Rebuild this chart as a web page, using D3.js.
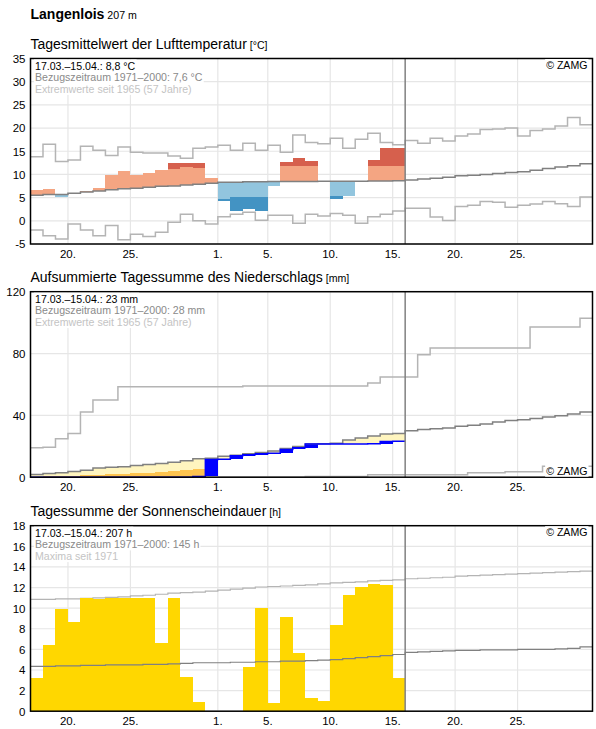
<!DOCTYPE html>
<html><head><meta charset="utf-8">
<script src="https://cdn.jsdelivr.net/npm/d3@7"></script>
<style>
body{margin:0;background:#fff}
svg{display:block;font-family:"Liberation Sans",Arial,Helvetica,sans-serif}
</style>
</head><body>
<svg id="chart" width="596" height="729"></svg>
<script>
// ---------- data ----------
const station = "Langenlois";
const stationAlt = "207 m";
const dayCount = 45;           // 17.03. – 30.04.
const obsCount = 30;           // 17.03. – 15.04.
const dayTicks = [3, 8, 15, 19, 24, 29, 34, 39];
const dayTickLabels = ["20.", "25.", "1.", "5.", "10.", "15.", "20.", "25."];

// Temperature [°C]
const tempObserved = [6.65, 6.9, 5.15, 6.0, 6.45, 7.0, 9.9, 10.75, 9.9, 10.3,
  10.95, 12.5, 12.5, 12.5, 9.25, 4.3, 2.15, 2.5, 2.15, 7.6,
  12.7, 13.6, 12.9, 8.55, 4.6, 5.45, 8.55, 13.1, 15.8, 15.8];
const tempNormal = [5.5, 5.7, 5.7, 5.95, 6.2, 6.45, 6.7, 6.9, 7.0, 7.25,
  7.45, 7.5, 7.7, 7.9, 8.1, 8.3, 8.3, 8.45, 8.45, 8.5,
  8.5, 8.5, 8.5, 8.55, 8.55, 8.55, 8.55, 8.6, 8.6, 8.65,
  8.8, 9.0, 9.2, 9.4, 9.7, 9.85, 10.0, 10.2, 10.4, 10.6,
  10.9, 11.3, 11.6, 11.9, 12.3];
const tempSigma = [3.8, 3.8, 3.8, 3.8, 3.9, 3.9, 3.9, 4.0, 3.9, 3.8,
  3.8, 3.7, 3.8, 3.5, 3.5, 3.6, 3.1, 3.35, 3.25, 3.3,
  3.3, 3.3, 3.3, 3.2, 3.1, 3.1, 3.2, 3.2, 3.2, 3.2];
const tempMax = [13.8, 16.5, 12.8, 13.1, 16.1, 15.2, 14.1, 15.9, 14.8, 14.6,
  14.6, 14.0, 13.5, 15.65, 15.9, 16.3, 15.2, 16.7, 15.2, 16.3,
  14.8, 18.5, 16.9, 16.6, 17.8, 15.65, 17.6, 18.9, 16.9, 16.4,
  17.3, 16.7, 17.8, 17.2, 18.3, 18.7, 19.7, 19.8, 20.0, 18.3,
  19.45, 19.8, 20.45, 22.3, 20.7];
const tempMin = [-2.0, -3.2, -3.9, -0.7, -2.0, -3.2, -1.0, -4.1, -2.9, -3.4,
  -2.45, -0.3, 1.4, 0.0, -0.7, 0.9, 1.4, 1.85, 0.1, 1.2,
  1.2, -0.5, 1.4, 1.05, 1.6, 1.2, -0.5, 0.9, 1.4, 2.1,
  2.7, 2.7, 0.8, 0.05, 3.1, 3.35, 4.15, 4.0, 2.9, 3.35,
  3.6, 4.15, 3.7, 3.1, 5.15];
const tempTicks = [-5, 0, 5, 10, 15, 20, 25, 30, 35];
const tempLegend = ["17.03.–15.04.: 8,8 °C", "Bezugszeitraum 1971–2000: 7,6 °C", "Extremwerte seit 1965 (57 Jahre)"];

// Precipitation, accumulated [mm]
const precipObserved = [0, 0, 0, 0, 0, 0, 0, 0, 0, 0,
  0, 0, 0, 0.5, 11.4, 11.6, 13.9, 14.6, 15.1, 15.5,
  18.0, 19.0, 21.5, 21.5, 21.5, 21.5, 21.5, 21.7, 23.1, 23.2];
const precipNormal = [1.75, 2.4, 2.8, 3.7, 4.5, 6.0, 6.5, 6.7, 7.5, 8.2,
  8.8, 9.7, 10.6, 11.9, 12.2, 13.6, 14.2, 15.1, 15.9, 17.0,
  18.6, 19.8, 21.5, 21.7, 21.9, 24.1, 25.4, 26.7, 28.0, 28.2,
  30.1, 30.8, 31.4, 31.9, 32.9, 33.6, 34.4, 35.7, 36.6, 37.2,
  37.9, 39.0, 39.8, 40.9, 42.2];
const precipDryLimit = [0.4, 0.6, 0.8, 1.0, 1.2, 1.6, 1.8, 2.0, 2.4, 2.8,
  3.2, 3.8, 4.5, 5.4, 5.4, 6.2, 6.5, 7.0, 7.4, 8.0,
  8.8, 9.5, 10.3, 10.5, 10.7, 11.8, 12.5, 13.2, 14.0, 14.1];
const precipMax = [19.0, 19.4, 24.8, 28.2, 42.2, 49.9, 49.9, 58.5, 58.5, 58.5,
  58.5, 58.5, 58.5, 58.5, 58.5, 58.5, 58.5, 59.0, 59.0, 59.0,
  59.0, 59.0, 59.0, 59.0, 59.0, 59.0, 59.0, 60.9, 64.8, 64.8,
  64.8, 79.2, 83.5, 83.5, 83.5, 83.5, 83.5, 83.5, 83.5, 83.5,
  97.2, 97.2, 97.2, 97.2, 102.8];
const precipMin = [0, 0, 0, 0, 0, 0, 0, 0, 0, 0,
  0, 0, 0, 0, 0, 0, 0, 0, 0, 0,
  0, 0, 0.5, 0.5, 0.5, 0.5, 0.5, 1.6, 1.6, 1.6,
  1.6, 1.6, 1.6, 1.6, 1.6, 2.8, 2.8, 2.8, 3.5, 3.5,
  3.5, 7.1, 7.1, 7.1, 7.1];
const precipTicks = [0, 40, 80, 120];
const precipLegend = ["17.03.–15.04.: 23 mm", "Bezugszeitraum 1971–2000: 28 mm", "Extremwerte seit 1965 (57 Jahre)"];

// Sunshine [h]
const sunObserved = [3.2, 6.4, 9.9, 8.7, 11.0, 10.9, 11.0, 11.0, 11.0, 11.0,
  6.6, 11.0, 3.3, 0.9, 0, 0, 0, 4.3, 10.0, 0.8,
  9.1, 5.6, 1.3, 1.0, 8.4, 11.3, 12.1, 12.3, 12.2, 3.2];
const sunNormal = [4.35, 4.35, 4.4, 4.4, 4.45, 4.45, 4.5, 4.5, 4.5, 4.55,
  4.55, 4.6, 4.65, 4.7, 4.7, 4.7, 4.75, 4.75, 4.8, 4.8,
  4.85, 4.85, 4.9, 4.95, 5.0, 5.1, 5.2, 5.3, 5.4, 5.5,
  5.7, 5.75, 5.8, 5.85, 5.9, 5.9, 5.95, 5.95, 5.95, 6.0,
  6.0, 6.0, 6.05, 6.1, 6.25];
const sunMax = [10.85, 10.85, 10.9, 10.9, 10.95, 11.0, 11.05, 11.1, 11.2, 11.25,
  11.35, 11.45, 11.5, 11.55, 11.65, 11.75, 11.85, 11.95, 12.05, 12.1,
  12.15, 12.2, 12.25, 12.35, 12.45, 12.5, 12.55, 12.65, 12.7, 12.75,
  12.85, 12.9, 12.95, 13.0, 13.1, 13.15, 13.2, 13.25, 13.3, 13.35,
  13.4, 13.45, 13.5, 13.55, 13.6];
const sunTicks = [0, 2, 4, 6, 8, 10, 12, 14, 16, 18];
const sunLegend = ["17.03.–15.04.: 207 h", "Bezugszeitraum 1971–2000: 145 h", "Maxima seit 1971"];

// ---------- drawing ----------
const svg = d3.select("#chart");
const X0 = 30.5, X1 = 592.5;
const x = d3.scaleLinear().domain([0, dayCount]).range([X0, X1]);
const smallFont = 10.6;

svg.append("text").attr("x", 30.5).attr("y", 19)
  .attr("font-size", 14).attr("font-weight", "bold").attr("fill", "#000")
  .text(station)
  .append("tspan").attr("font-weight", "normal").attr("font-size", smallFont).text(" " + stationAlt);

function stepPath(values, y) {
  const pts = values.map((v, i) => [i, v]);
  pts.push([values.length, values[values.length - 1]]);
  return d3.line().x(d => x(d[0])).y(d => y(d[1])).curve(d3.curveStepAfter)(pts);
}

function textWithBg(g, tx, ty, str, color, anchor) {
  const t = g.append("text").attr("x", tx).attr("y", ty)
    .attr("font-size", smallFont).attr("fill", color)
    .attr("text-anchor", anchor || "start").text(str);
  const bb = t.node().getBBox();
  g.insert("rect", () => t.node())
    .attr("x", bb.x - 1).attr("y", bb.y).attr("width", bb.width + 2).attr("height", bb.height)
    .attr("fill", "#fff");
}

function makeChart(cfg) {
  const top = cfg.top, bottom = cfg.top + 185.5;
  const y = d3.scaleLinear().domain(cfg.domain).range([bottom, top]);
  const g = svg.append("g");

  // title
  g.append("text").attr("x", 30.5).attr("y", top - 9.5)
    .attr("font-size", 14).attr("fill", "#000").text(cfg.title)
    .append("tspan").attr("font-size", smallFont).text(" " + cfg.unit);

  // grid
  const grid = g.append("g").attr("stroke", "#e6e6e6").attr("stroke-width", 1.2);
  grid.selectAll("line.h").data(cfg.ticks).join("line")
    .attr("x1", X0).attr("x2", X1).attr("y1", d => y(d)).attr("y2", d => y(d));
  grid.selectAll("line.v").data(dayTicks).join("line").attr("class", "v")
    .attr("x1", d => x(d)).attr("x2", d => x(d)).attr("y1", top).attr("y2", bottom);

  // y axis labels
  g.append("g").selectAll("text").data(cfg.ticks).join("text")
    .attr("x", 25.5).attr("y", d => y(d)).attr("dy", "0.38em")
    .attr("text-anchor", "end").attr("font-size", 11.5).attr("fill", "#000")
    .text(d => d);

  // x axis labels
  g.append("g").selectAll("text").data(dayTicks).join("text")
    .attr("x", d => x(d)).attr("y", bottom + 13.5)
    .attr("text-anchor", "middle").attr("font-size", 11.5).attr("fill", "#000")
    .text((d, i) => dayTickLabels[i]);

  // extremes
  cfg.extremes.forEach(arr => {
    g.append("path").attr("d", stepPath(arr, y)).attr("fill", "none")
      .attr("stroke", "#b4b4b4").attr("stroke-width", cfg.lineW);
  });

  cfg.marks(g, y);

  // normal
  g.append("path").attr("d", stepPath(cfg.normal, y)).attr("fill", "none")
    .attr("stroke", "#808080").attr("stroke-width", cfg.lineW);

  if (cfg.after) cfg.after(g, y);

  // today line
  g.append("line").attr("x1", x(obsCount)).attr("x2", x(obsCount))
    .attr("y1", top).attr("y2", bottom).attr("stroke", "#808080").attr("stroke-width", 1.5);

  // border
  g.append("rect").attr("x", X0).attr("y", top).attr("width", X1 - X0).attr("height", bottom - top)
    .attr("fill", "none").attr("stroke", "#000").attr("stroke-width", 1.5);

  // legend
  const colors = ["#000", "#8a8a8a", "#c4c4c4"];
  cfg.legend.forEach((s, i) => textWithBg(g, 35, top + 11 + i * 11.7, s, colors[i]));
  const zy = cfg.zamgBottom ? bottom - 2.5 : top + 10.5;
  textWithBg(g, X1 - 5, zy, "© ZAMG", "#000", "end");
}

// Temperature
makeChart({
  top: 58.5, domain: [-5, 35], ticks: tempTicks,
  title: "Tagesmittelwert der Lufttemperatur", unit: "[°C]",
  extremes: [tempMax, tempMin], normal: tempNormal, lineW: 1.5,
  legend: tempLegend,
  marks: (g, y) => {
    const rects = [];
    tempObserved.forEach((v, i) => {
      const n = tempNormal[i], s = tempSigma[i];
      if (v > n) {
        rects.push({i, a: n, b: Math.min(v, n + s), c: "#f4a582"});
        if (v > n + s) rects.push({i, a: n + s, b: v, c: "#d6604d"});
      } else if (v < n) {
        rects.push({i, a: Math.max(v, n - s), b: n, c: "#92c5de"});
        if (v < n - s) rects.push({i, a: v, b: n - s, c: "#4393c3"});
      }
    });
    g.append("g").selectAll("rect").data(rects).join("rect")
      .attr("x", d => x(d.i)).attr("width", d => x(d.i + 1) - x(d.i))
      .attr("y", d => y(d.b)).attr("height", d => y(d.a) - y(d.b))
      .attr("fill", d => d.c).attr("shape-rendering", "crispEdges");
  }
});

// Precipitation
makeChart({
  top: 291.7, domain: [0, 120], ticks: precipTicks,
  title: "Aufsummierte Tagessumme des Niederschlags", unit: "[mm]",
  extremes: [precipMax, precipMin], normal: precipNormal, lineW: 1.5,
  legend: precipLegend, zamgBottom: true,
  marks: (g, y) => {
    const rects = [];
    precipObserved.forEach((o, i) => {
      const n = precipNormal[i], L = precipDryLimit[i];
      if (o < n) {
        const lo = Math.max(o, L);
        if (lo < n) rects.push({i, a: lo, b: n, c: "#fff5bf"});
        if (o < L) rects.push({i, a: o, b: Math.min(L, n), c: "#fec44f"});
      }
      const prev = i > 0 ? precipObserved[i - 1] : 0;
      if (o > prev) rects.push({i, a: prev, b: o, c: "#0000ff"});
    });
    g.append("g").selectAll("rect").data(rects).join("rect")
      .attr("x", d => x(d.i)).attr("width", d => x(d.i + 1) - x(d.i))
      .attr("y", d => y(d.b)).attr("height", d => y(d.a) - y(d.b))
      .attr("fill", d => d.c).attr("shape-rendering", "crispEdges");
  },
  after: (g, y) => {
    g.append("path").attr("d", stepPath(precipObserved, y)).attr("fill", "none")
      .attr("stroke", "#0000ff").attr("stroke-width", 1.5);
  }
});

// Sunshine
makeChart({
  top: 525.7, domain: [0, 18], ticks: sunTicks,
  title: "Tagessumme der Sonnenscheindauer", unit: "[h]",
  extremes: [sunMax], normal: sunNormal, lineW: 1.2,
  legend: sunLegend,
  marks: (g, y) => {
    g.append("g").selectAll("rect").data(sunObserved).join("rect")
      .attr("x", (d, i) => x(i)).attr("width", (d, i) => x(i + 1) - x(i))
      .attr("y", d => y(d)).attr("height", d => y(0) - y(d))
      .attr("fill", "#ffd700").attr("shape-rendering", "crispEdges");
  }
});
</script>
</body></html>
